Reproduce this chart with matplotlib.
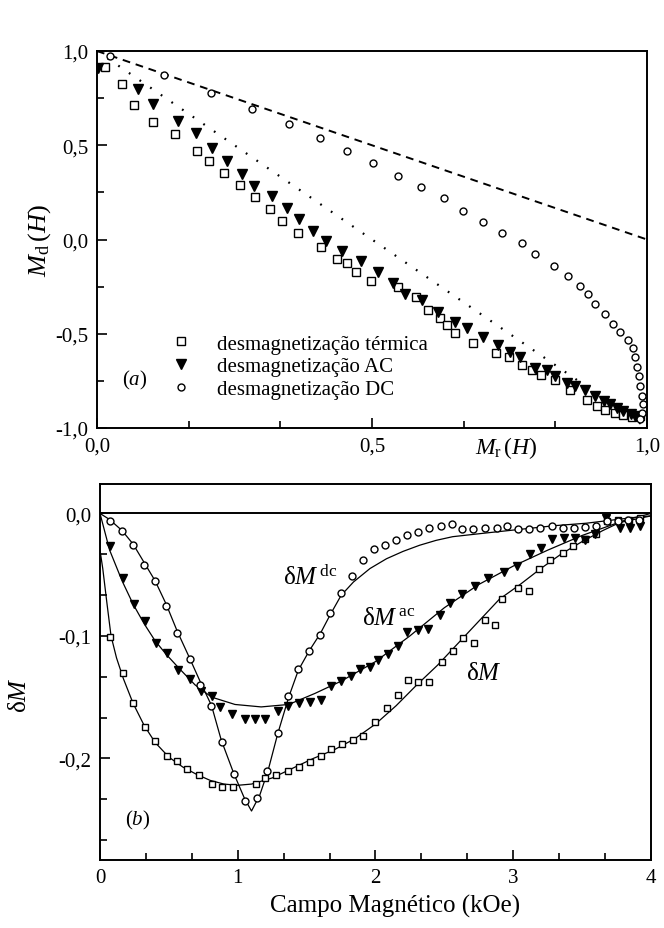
import matplotlib
matplotlib.use("Agg")
import matplotlib.pyplot as plt
from matplotlib.ticker import MultipleLocator, FuncFormatter
import numpy as np

plt.rcParams.update({
    "font.family": "Liberation Serif",
    "font.size": 15,
    "mathtext.fontset": "custom",
    "mathtext.rm": "Liberation Serif",
    "mathtext.it": "Liberation Serif:italic",
    "axes.linewidth": 1.4,
})

# (a) Henkel-type plot: M_d against M_r for three demagnetisation routes
therm_mr = [0.015, 0.046, 0.068, 0.101, 0.142, 0.182, 0.203, 0.231, 0.260, 0.288, 0.314, 0.336,
            0.366, 0.407, 0.437, 0.454, 0.471, 0.498, 0.547, 0.580, 0.601, 0.623, 0.636, 0.650,
            0.684, 0.726, 0.749, 0.772, 0.790, 0.808, 0.832, 0.860, 0.891, 0.909, 0.924, 0.942,
            0.957, 0.973, 0.988]
therm_md = [0.917, 0.826, 0.712, 0.626, 0.560, 0.472, 0.418, 0.353, 0.291, 0.225, 0.160, 0.096,
            0.037, -0.039, -0.104, -0.126, -0.174, -0.221, -0.253, -0.305, -0.372, -0.414, -0.451,
            -0.498, -0.551, -0.604, -0.621, -0.665, -0.692, -0.718, -0.744, -0.800, -0.849, -0.884,
            -0.902, -0.919, -0.933, -0.940, -0.937]

ac_mr = [0.002, 0.075, 0.101, 0.147, 0.180, 0.209, 0.236, 0.263, 0.286, 0.319, 0.346, 0.368,
         0.392, 0.416, 0.446, 0.480, 0.511, 0.539, 0.560, 0.591, 0.620, 0.650, 0.672, 0.702,
         0.729, 0.751, 0.769, 0.796, 0.818, 0.832, 0.854, 0.869, 0.887, 0.906, 0.921, 0.933,
         0.945, 0.957, 0.970, 0.979]
ac_md = [0.910, 0.800, 0.717, 0.630, 0.563, 0.484, 0.418, 0.349, 0.286, 0.230, 0.168, 0.107,
         0.046, -0.007, -0.060, -0.112, -0.174, -0.232, -0.288, -0.323, -0.384, -0.437, -0.472,
         -0.516, -0.560, -0.595, -0.621, -0.682, -0.690, -0.726, -0.761, -0.779, -0.796, -0.832,
         -0.858, -0.875, -0.893, -0.911, -0.928, -0.937]

dc_mr = [0.024, 0.121, 0.207, 0.282, 0.349, 0.406, 0.455, 0.502, 0.548, 0.589, 0.630, 0.665,
         0.701, 0.737, 0.772, 0.796, 0.830, 0.856, 0.878, 0.892, 0.906, 0.924, 0.939, 0.951,
         0.965, 0.974, 0.979, 0.982, 0.985, 0.988, 0.991, 0.992, 0.991, 0.988]
dc_md = [0.975, 0.874, 0.777, 0.695, 0.611, 0.540, 0.468, 0.404, 0.335, 0.277, 0.219, 0.151,
         0.093, 0.035, -0.021, -0.077, -0.142, -0.195, -0.244, -0.288, -0.340, -0.393, -0.446,
         -0.489, -0.533, -0.577, -0.621, -0.674, -0.726, -0.779, -0.832, -0.875, -0.920, -0.950]

# reference lines: M_d = 1 - M_r and Wohlfarth M_d = 1 - 2 M_r
ref_mr = [0.0, 1.0]
ref_dashed = [1.0, 0.0]
ref_dotted = [1.0, -1.0]

# (b) deltaM versus applied field (kOe)
dc_h = [0.073, 0.157, 0.242, 0.319, 0.399, 0.480, 0.562, 0.651, 0.726, 0.806, 0.883, 0.975,
        1.053, 1.137, 1.215, 1.290, 1.367, 1.440, 1.520, 1.597, 1.670, 1.752, 1.827, 1.912,
        1.989, 2.069, 2.149, 2.231, 2.311, 2.391, 2.473, 2.553, 2.630, 2.710, 2.795, 2.880,
        2.952, 3.037, 3.117, 3.194, 3.279, 3.358, 3.440, 3.520, 3.600, 3.678, 3.763, 3.835, 3.915]
dc_dm = [-0.006, -0.014, -0.026, -0.042, -0.055, -0.076, -0.098, -0.119, -0.140, -0.157, -0.187,
         -0.213, -0.235, -0.232, -0.210, -0.179, -0.149, -0.127, -0.112, -0.099, -0.081, -0.065,
         -0.051, -0.038, -0.029, -0.026, -0.022, -0.018, -0.015, -0.012, -0.010, -0.009, -0.013,
         -0.013, -0.012, -0.012, -0.010, -0.013, -0.013, -0.012, -0.010, -0.012, -0.012, -0.011,
         -0.010, -0.006, -0.006, -0.005, -0.005]
dcfit_h = [0.0, 0.07, 0.16, 0.24, 0.32, 0.40, 0.48, 0.56, 0.65, 0.73, 0.81, 0.88, 0.97, 1.05,
           1.10, 1.16, 1.22, 1.29, 1.37, 1.44, 1.52, 1.60, 1.67, 1.75, 1.84, 1.96, 2.08, 2.20,
           2.32, 2.44, 2.56, 2.80, 3.05, 3.30, 3.53, 3.75, 3.90, 4.0]
dcfit_dm = [0.0, -0.005, -0.014, -0.025, -0.040, -0.055, -0.074, -0.096, -0.118, -0.138, -0.157,
            -0.185, -0.212, -0.233, -0.243, -0.230, -0.210, -0.180, -0.150, -0.128, -0.112,
            -0.098, -0.083, -0.067, -0.056, -0.045, -0.037, -0.031, -0.026, -0.022, -0.019,
            -0.016, -0.013, -0.010, -0.008, -0.005, -0.003, -0.002]

ac_h = [0.073, 0.165, 0.250, 0.325, 0.405, 0.488, 0.568, 0.653, 0.730, 0.810, 0.871, 0.960,
        1.050, 1.125, 1.200, 1.292, 1.365, 1.443, 1.522, 1.602, 1.680, 1.750, 1.820, 1.887,
        1.960, 2.020, 2.093, 2.166, 2.231, 2.311, 2.383, 2.468, 2.541, 2.630, 2.720, 2.815,
        2.930, 3.030, 3.121, 3.205, 3.285, 3.365, 3.445, 3.520, 3.597, 3.677, 3.775, 3.847, 3.920]
ac_dm = [-0.027, -0.053, -0.074, -0.088, -0.106, -0.114, -0.128, -0.135, -0.145, -0.149, -0.158,
         -0.164, -0.168, -0.168, -0.168, -0.161, -0.157, -0.155, -0.154, -0.152, -0.141, -0.137,
         -0.133, -0.127, -0.125, -0.120, -0.115, -0.108, -0.097, -0.095, -0.094, -0.083, -0.073,
         -0.066, -0.059, -0.053, -0.048, -0.043, -0.033, -0.028, -0.021, -0.020, -0.020, -0.022,
         -0.017, -0.004, -0.012, -0.012, -0.010]
acfit_h = [0.0, 0.07, 0.16, 0.24, 0.32, 0.40, 0.48, 0.57, 0.69, 0.81, 0.98, 1.17, 1.37, 1.56,
           1.75, 2.0, 2.25, 2.5, 2.75, 3.0, 3.25, 3.5, 3.75, 4.0]
acfit_dm = [0.0, -0.030, -0.055, -0.074, -0.090, -0.104, -0.115, -0.126, -0.140, -0.150, -0.156,
            -0.158, -0.156, -0.147, -0.137, -0.121, -0.100, -0.077, -0.058, -0.043, -0.030,
            -0.018, -0.008, -0.002]

th_h = [0.073, 0.165, 0.242, 0.327, 0.399, 0.484, 0.557, 0.634, 0.721, 0.810, 0.883, 0.968,
        1.132, 1.198, 1.280, 1.367, 1.446, 1.522, 1.607, 1.677, 1.754, 1.834, 1.912, 1.996,
        2.080, 2.162, 2.238, 2.310, 2.390, 2.480, 2.560, 2.637, 2.715, 2.795, 2.867, 2.922,
        3.037, 3.117, 3.190, 3.267, 3.359, 3.437, 3.520, 3.600, 3.678, 3.763, 3.840, 3.920]
th_dm = [-0.101, -0.130, -0.155, -0.174, -0.186, -0.198, -0.202, -0.209, -0.214, -0.221, -0.223,
         -0.223, -0.221, -0.216, -0.214, -0.210, -0.207, -0.203, -0.198, -0.192, -0.188, -0.185,
         -0.182, -0.170, -0.159, -0.148, -0.136, -0.138, -0.138, -0.121, -0.112, -0.102, -0.106,
         -0.087, -0.091, -0.070, -0.061, -0.063, -0.045, -0.038, -0.032, -0.027, -0.021, -0.017,
         -0.006, -0.005, -0.005, -0.004]
thfit_h = [0.0, 0.02, 0.05, 0.08, 0.12, 0.17, 0.24, 0.32, 0.40, 0.50, 0.60, 0.70, 0.80, 0.90,
           1.00, 1.10, 1.25, 1.40, 1.55, 1.70, 1.85, 2.00, 2.15, 2.30, 2.45, 2.60, 2.75, 2.90,
           3.05, 3.20, 3.35, 3.50, 3.65, 3.80, 4.0]
thfit_dm = [-0.030, -0.045, -0.073, -0.100, -0.118, -0.135, -0.155, -0.173, -0.187, -0.199,
            -0.207, -0.213, -0.218, -0.221, -0.222, -0.221, -0.216, -0.208, -0.200, -0.193,
            -0.184, -0.172, -0.157, -0.140, -0.124, -0.106, -0.088, -0.070, -0.058, -0.045,
            -0.033, -0.023, -0.014, -0.006, 0.0]

labels = ["desmagnetização térmica", "desmagnetização AC", "desmagnetização DC"]

K = "black"
open_kw = dict(linestyle="none", mfc="white", mec=K, mew=1.0)


def comma(v, _pos):
    s = f"{v:.1f}"
    if s == "-0.0":
        s = "0.0"
    return s.replace(".", ",")


def style_axis(ax):
    ax.tick_params(which="both", direction="in", top=False, right=False, width=1.2)
    ax.tick_params(which="major", length=7, pad=6)
    ax.tick_params(which="minor", length=5)


fig = plt.figure(figsize=(6.64, 9.29), dpi=100)

# ---- panel (a)
ax1 = fig.add_axes([0.1461, 0.5382, 0.8283, 0.4058])
ax1.plot(ref_mr, ref_dashed, color=K, lw=1.4, ls=(0, (4, 3)))
ax1.plot(ref_mr, ref_dotted, color=K, lw=1.6, ls=(0, (0.8, 5)))
h1, = ax1.plot(therm_mr, therm_md, marker="s", ms=5.5, **open_kw)
h2, = ax1.plot(ac_mr, ac_md, marker="v", ms=6.5, linestyle="none", color=K)
h3, = ax1.plot(dc_mr, dc_md, marker="o", ms=5.0, **open_kw)
ax1.set_xlim(0, 1)
ax1.set_ylim(-1, 1)
ax1.xaxis.set_major_locator(MultipleLocator(0.5))
ax1.xaxis.set_minor_locator(MultipleLocator(1 / 6))
ax1.yaxis.set_major_locator(MultipleLocator(0.5))
ax1.yaxis.set_minor_locator(MultipleLocator(0.25))
ax1.xaxis.set_major_formatter(FuncFormatter(comma))
ax1.yaxis.set_major_formatter(FuncFormatter(comma))
style_axis(ax1)
ax1.set_ylabel(r"$M_{\rm d}\,(H)$", fontsize=19, labelpad=2)
ax1.text(0.745, -1.03, r"$M_{\rm r}\,(H)$", fontsize=17, ha="center", va="top")
ax1.text(0.045, -0.74, r"$(a)$", fontsize=15, ha="left", va="center")
ax1.legend([h1, h2, h3], labels, loc="center left", bbox_to_anchor=(0.134, 0.163),
           frameon=False, numpoints=1, handlelength=1.0, handletextpad=1.2,
           labelspacing=0.15, borderpad=0, borderaxespad=0, fontsize=15)

# ---- panel (b)
ax2 = fig.add_axes([0.1506, 0.0732, 0.8298, 0.4047])
ax2.axhline(0, color=K, lw=1.4)
ax2.plot(dcfit_h, dcfit_dm, color=K, lw=0.9)
ax2.plot(acfit_h, acfit_dm, color=K, lw=0.9)
ax2.plot(thfit_h, thfit_dm, color=K, lw=0.9)
ax2.plot(th_h, th_dm, marker="s", ms=5.0, **open_kw)
ax2.plot(ac_h, ac_dm, marker="v", ms=6.0, linestyle="none", color=K)
ax2.plot(dc_h, dc_dm, marker="o", ms=5.0, **open_kw)
ax2.set_xlim(0, 4)
ax2.set_ylim(-0.283, 0.024)
ax2.xaxis.set_major_locator(MultipleLocator(1))
ax2.xaxis.set_minor_locator(MultipleLocator(1 / 3))
ax2.yaxis.set_major_locator(MultipleLocator(0.1))
ax2.yaxis.set_minor_locator(MultipleLocator(0.1 / 3))
ax2.yaxis.set_major_formatter(FuncFormatter(comma))
style_axis(ax2)
ax2.set_ylabel(r"δ$M$", fontsize=18)
ax2.yaxis.set_label_coords(-0.125, 0.44)
ax2.set_xlabel("Campo Magnético (kOe)", fontsize=18, labelpad=6)
ax2.xaxis.set_label_coords(0.535, -0.09)
ax2.text(1.33, -0.052, r"δ$M^{\,\rm dc}$", fontsize=18, ha="left", va="center")
ax2.text(1.90, -0.085, r"δ$M^{\,\rm ac}$", fontsize=18, ha="left", va="center")
ax2.text(2.66, -0.130, r"δ$M$", fontsize=18, ha="left", va="center")
ax2.text(0.18, -0.25, r"$(b)$", fontsize=15, ha="left", va="center")

fig.savefig("out.png", dpi=100, facecolor="white")
